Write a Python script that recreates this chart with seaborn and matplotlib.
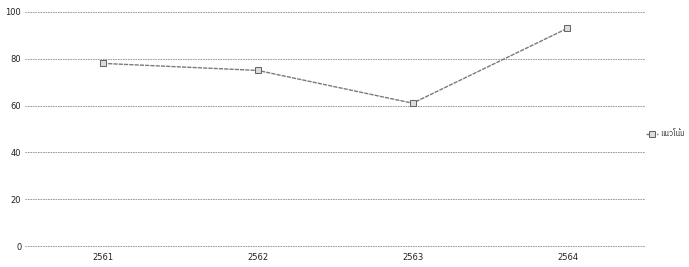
import pandas as pd
import matplotlib
matplotlib.use("Agg")
from matplotlib import pyplot as plt
import seaborn as sns

# data
years = ["2561", "2562", "2563", "2564"]
values = [78, 75, 61, 93]
series_name = "แนวโน้ม"
y_ticks = [0, 20, 40, 60, 80, 100]

sns.set_style("white")
plt.rcParams['font.family'] = ['DejaVu Sans', 'IBM Plex Sans Thai']

df = pd.DataFrame({"year": years, "value": values, "series": series_name})

fig = plt.figure(figsize=(6.89, 2.67), dpi=100)
ax = fig.add_axes([0.037, 0.075, 0.899, 0.884])

sns.lineplot(data=df, x="year", y="value", hue="series", palette=["#7a7a7a"],
             marker="s", markersize=4, markerfacecolor="#dddddd",
             markeredgecolor="#666666", linewidth=1.0, linestyle=(0, (3, 0.8)), ax=ax)

ax.set_xlim(-0.5, 3.5)
ax.set_ylim(-0.4, 100.4)
ax.set_yticks(y_ticks)
ax.yaxis.grid(True, color="#8a8a8a", linestyle=(0, (2, 1)), linewidth=0.6)
ax.set_axisbelow(True)
for s in ax.spines.values():
    s.set_visible(False)
ax.tick_params(axis="both", length=0, labelsize=6, colors="#222222")
ax.tick_params(axis="y", pad=3)
ax.tick_params(axis="x", pad=4)
ax.set_xlabel("")
ax.set_ylabel("")

ax.legend(loc="center left", bbox_to_anchor=(0.997, 0.48), frameon=False,
          fontsize=5.5, handlelength=1.5, handletextpad=0.3, borderpad=0.2,
          borderaxespad=0.2)

plt.savefig("out.png", dpi=100)
